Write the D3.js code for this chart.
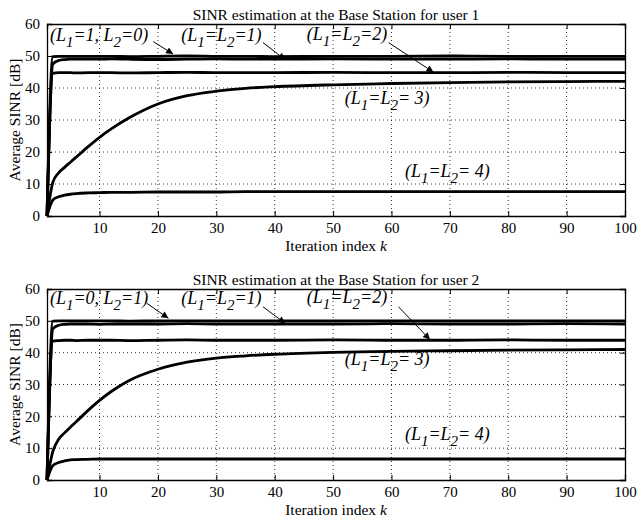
<!DOCTYPE html>
<html>
<head>
<meta charset="utf-8">
<script src="https://cdn.jsdelivr.net/npm/d3@7"></script>
<style>
  body { margin: 0; background: #fff; }
  svg text { font-family: "Liberation Serif", "DejaVu Serif", serif; fill: #000; }
  .grid line { stroke: #000; stroke-width: 0.8; stroke-dasharray: 1,3; }
  .curve { fill: none; stroke: #000; stroke-width: 2.8; stroke-linejoin: round; }
  .note { font-style: italic; font-size: 18px; }
</style>
</head>
<body>
<svg id="chart" width="639" height="519"></svg>
<script>
// iteration index values where the curves were read
var iters = [1, 2, 3, 4, 5, 6, 8, 10, 12, 15, 20, 25, 30, 35, 40, 50, 60, 70, 80, 90, 100]

// user 1
var u1_L10 = [0, 49.8, 49.9, 49.9, 49.9, 49.9, 49.9, 49.9, 49.9, 49.8, 49.9, 50.0, 49.9, 49.9, 49.8, 49.9, 49.9, 50.0, 49.9, 49.9, 49.9]
var u1_L11 = [0, 47.5, 48.6, 48.9, 49.0, 49.0, 49.0, 49.0, 49.1, 49.0, 48.9, 49.0, 49.1, 49.0, 49.0, 49.1, 49.0, 49.0, 49.1, 49.0, 49.0]
var u1_L22 = [0, 44.6, 44.8, 44.8, 44.8, 44.7, 44.8, 44.8, 44.8, 44.7, 44.8, 44.9, 44.8, 44.8, 44.8, 44.9, 44.8, 44.8, 44.9, 44.8, 44.8]
var u1_L33 = [0, 10.5, 13.5, 15.2, 16.8, 18.4, 21.6, 24.6, 27.2, 30.6, 35.0, 37.6, 39.0, 39.9, 40.4, 41.0, 41.4, 41.7, 41.9, 42.0, 42.1]
var u1_L44 = [0, 5.0, 6.0, 6.5, 6.8, 7.0, 7.2, 7.3, 7.4, 7.4, 7.5, 7.5, 7.5, 7.6, 7.6, 7.6, 7.6, 7.6, 7.6, 7.6, 7.6]

// user 2
var u2_L01 = [0, 49.9, 50.0, 50.0, 50.0, 50.0, 50.0, 50.0, 50.0, 49.9, 50.0, 50.0, 50.0, 50.0, 50.0, 50.0, 50.0, 50.0, 50.0, 50.0, 50.0]
var u2_L11 = [0, 47.5, 48.6, 48.9, 49.0, 49.0, 49.0, 48.9, 49.0, 49.0, 49.0, 49.1, 49.0, 49.0, 49.0, 49.0, 49.1, 49.0, 49.0, 49.1, 49.0]
var u2_L22 = [0, 43.6, 43.8, 43.9, 43.9, 43.8, 43.9, 43.9, 43.9, 43.8, 43.9, 44.0, 43.9, 43.9, 43.9, 44.0, 43.9, 43.9, 44.0, 43.9, 43.9]
var u2_L33 = [0, 9.0, 12.8, 14.8, 16.6, 18.3, 21.8, 25.0, 27.8, 31.2, 34.8, 37.0, 38.3, 39.0, 39.5, 40.1, 40.4, 40.6, 40.8, 40.9, 41.0]
var u2_L44 = [0, 4.5, 5.5, 6.0, 6.3, 6.4, 6.5, 6.6, 6.6, 6.6, 6.6, 6.6, 6.6, 6.6, 6.6, 6.6, 6.6, 6.6, 6.6, 6.6, 6.6]

var xTicks = [10, 20, 30, 40, 50, 60, 70, 80, 90, 100]
var yTicks = [0, 10, 20, 30, 40, 50, 60]

var titles = ["SINR estimation at the Base Station for user 1", "SINR estimation at the Base Station for user 2"]

// labels: text, [x, y] of text start, arrow [x1, y1, x2, y2] in data units
var notes1 = [
  { t: "(L_1=1, L_2=0)", at: [1.5, 54.7], arrow: [19.2, 54.5, 22.6, 50.6] },
  { t: "(L_1=L_2=1)", at: [24, 54.7], arrow: [38.0, 54.2, 41.8, 48.8] },
  { t: "(L_1=L_2=2)", at: [45.5, 55], arrow: [59.5, 54.2, 67.2, 44.9] },
  { t: "(L_1=L_2= 3)", at: [52, 35] },
  { t: "(L_1=L_2= 4)", at: [62.3, 12.2] }
]
var notes2 = [
  { t: "(L_1=0, L_2=1)", at: [1.5, 55.3], arrow: [18.1, 55.5, 21.8, 50.8] },
  { t: "(L_1=L_2=1)", at: [24, 55.3], arrow: [38.0, 54.4, 41.8, 49.2] },
  { t: "(L_1=L_2=2)", at: [45.5, 55.6], arrow: [61.2, 54.4, 66.6, 44.1] },
  { t: "(L_1=L_2= 3)", at: [52, 36.1] },
  { t: "(L_1=L_2= 4)", at: [62.3, 12.6] }
]

var svg = d3.select("#chart")

svg.append("defs").append("marker")
  .attr("id", "head")
  .attr("viewBox", "0 0 10 10")
  .attr("refX", 10).attr("refY", 5)
  .attr("markerWidth", 9).attr("markerHeight", 7)
  .attr("markerUnits", "userSpaceOnUse")
  .attr("orient", "auto")
  .append("path").attr("d", "M0,0L10,5L0,10Z").attr("fill", "#000")

function drawPanel(top, bottom, title, series, notes) {
  var left = 47, right = 625

  var x = d3.scaleLinear().domain([1, 100]).range([left, right])
  var y = d3.scaleLinear().domain([0, 60]).range([bottom, top])

  var g = svg.append("g")

  // dotted grid
  var grid = g.append("g").attr("class", "grid")
  grid.selectAll(".gx").data(xTicks.slice(0, -1)).join("line")
    .attr("x1", d => x(d)).attr("x2", d => x(d))
    .attr("y1", top).attr("y2", bottom)
  grid.selectAll(".gy").data(yTicks.slice(1, -1)).join("line")
    .attr("x1", left).attr("x2", right)
    .attr("y1", d => y(d)).attr("y2", d => y(d))

  // axes, ticks inward like matlab
  var fmt = d3.format("d")
  g.append("g").attr("transform", "translate(0," + bottom + ")")
    .call(d3.axisBottom(x).tickValues(xTicks).tickSize(-5).tickPadding(6).tickFormat(fmt))
  g.append("g").attr("transform", "translate(0," + top + ")")
    .call(d3.axisTop(x).tickValues(xTicks).tickSize(-5).tickFormat(""))
  g.append("g").attr("transform", "translate(" + left + ",0)")
    .call(d3.axisLeft(y).tickValues(yTicks).tickSize(-5).tickPadding(7).tickFormat(fmt))
  g.append("g").attr("transform", "translate(" + right + ",0)")
    .call(d3.axisRight(y).tickValues(yTicks).tickSize(-5).tickFormat(""))

  g.selectAll(".domain").attr("stroke", "#000").attr("stroke-width", 1.3)
  g.selectAll(".tick line").attr("stroke", "#000")
  g.selectAll("g[font-family]").attr("font-family", '"Liberation Serif", serif').attr("font-size", 15)
  g.selectAll(".tick text").attr("fill", "#000")

  var line = d3.line()
    .x((d, i) => x(iters[i]))
    .y(d => y(d))
    .curve(d3.curveMonotoneX)

  g.selectAll(".curve").data(series).join("path")
    .attr("class", "curve")
    .attr("d", d => line(d))

  // title and axis labels
  g.append("text")
    .attr("x", (left + right) / 2).attr("y", top - 4.5)
    .attr("text-anchor", "middle").style("font-size", "15.5px")
    .text(title)

  var xl = g.append("text")
    .attr("x", (left + right) / 2).attr("y", bottom + 35)
    .attr("text-anchor", "middle").style("font-size", "15.5px")
  xl.append("tspan").text("Iteration index ")
  xl.append("tspan").style("font-style", "italic").text("k")

  g.append("text")
    .attr("transform", "translate(20," + ((top + bottom) / 2) + ") rotate(-90)")
    .attr("text-anchor", "middle").style("font-size", "15.5px")
    .text("Average SINR [dB]")

  // annotations
  notes.forEach(function (n) {
    var t = g.append("text").attr("class", "note")
      .attr("x", x(n.at[0])).attr("y", y(n.at[1]))
    var parts = n.t.split(/_(\d)/)
    parts.forEach(function (p, i) {
      if (p === "") return
      if (i % 2 === 1) {
        t.append("tspan").attr("dy", 6).style("font-size", "15px").text(p)
      } else {
        t.append("tspan").attr("dy", i > 0 ? -6 : 0).text(p)
      }
    })
    if (n.arrow) {
      g.append("line")
        .attr("x1", x(n.arrow[0])).attr("y1", y(n.arrow[1]))
        .attr("x2", x(n.arrow[2])).attr("y2", y(n.arrow[3]))
        .attr("stroke", "#000").attr("stroke-width", 1)
        .attr("marker-end", "url(#head)")
    }
  })
}

drawPanel(24, 216, titles[0], [u1_L10, u1_L11, u1_L22, u1_L33, u1_L44], notes1)
drawPanel(289, 480, titles[1], [u2_L01, u2_L11, u2_L22, u2_L33, u2_L44], notes2)
</script>
</body>
</html>
